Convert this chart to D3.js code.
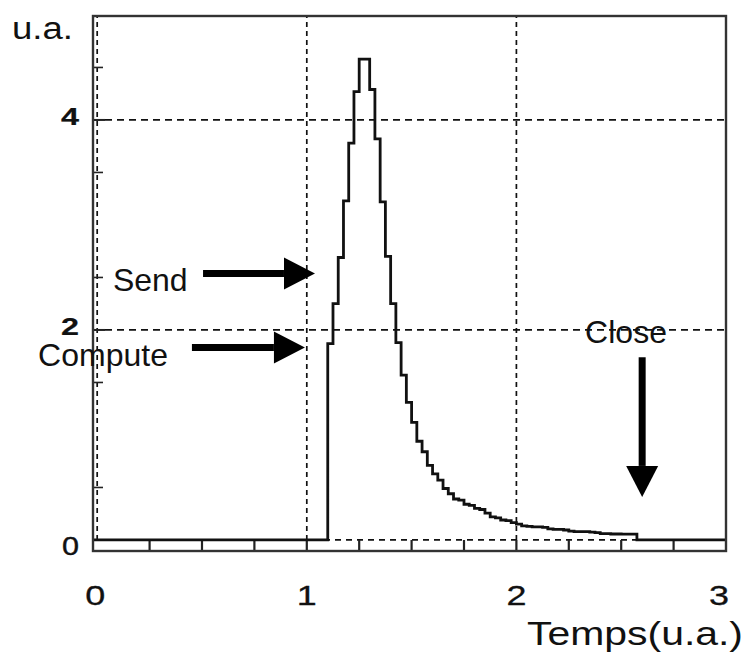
<!DOCTYPE html>
<html>
<head>
<meta charset="utf-8">
<script src="https://cdn.jsdelivr.net/npm/d3@7"></script>
<style>
  html, body { margin: 0; padding: 0; background: #fff; }
  svg { display: block; }
  text { font-family: "Liberation Sans", Arial, Helvetica, sans-serif; fill: #111; }
</style>
</head>
<body>
<svg id="chart" width="747" height="656"></svg>
<script>
// ---------- data ----------
const binEdges = [1.100,1.125,1.150,1.175,1.200,1.225,1.250,1.275,1.300,1.325,
                  1.350,1.375,1.400,1.425,1.450,1.475,1.500,1.525,1.550,1.575,
                  1.600,1.625,1.650,1.675,1.700,1.725,1.750,1.775,1.800,1.825,
                  1.850,1.875,1.900,1.925,1.950,1.975,2.000,2.025,2.050,2.075,
                  2.100,2.125,2.150,2.175,2.200,2.225,2.250,2.275,2.300,2.325,
                  2.350,2.375,2.400,2.425,2.450,2.475,2.500,2.525,2.550,2.575];
const binValues = [1.87,2.25,2.69,3.23,3.78,4.27,4.58,4.58,4.29,3.82,
                   3.22,2.70,2.25,1.88,1.57,1.31,1.12,0.94,0.84,0.71,
                   0.63,0.57,0.49,0.44,0.39,0.38,0.34,0.33,0.30,0.29,
                   0.255,0.22,0.21,0.19,0.185,0.165,0.15,0.135,0.13,0.125,
                   0.125,0.12,0.105,0.10,0.10,0.095,0.085,0.08,0.08,0.08,
                   0.075,0.07,0.06,0.06,0.057,0.057,0.055,0.055,0.055];
const xTickLabels = [0, 1, 2, 3];
const xMinorTicks = [0.25,0.5,0.75,1,1.25,1.5,1.75,2,2.25,2.5,2.75];
const yTickLabels = [0, 2, 4];
const yMinorTicks = [0.5,1.5,2.5,3.5,4.5];
const xGrid = [0, 1, 2];
const yGrid = [0, 2, 4];
const xTitle = "Temps(u.a.)";
const yTitle = "u.a.";
// annotations (data coordinates)
const arrows = [
  {name: "Send",    x0: 0.505, y0: 2.537, x1: 1.039, y1: 2.537},
  {name: "Compute", x0: 0.452, y0: 1.834, x1: 0.991, y1: 1.834},
  {name: "Close",   x0: 2.600, y0: 1.740, x1: 2.600, y1: 0.410}
];
const labels = [
  {text: "Send",    x: 0.075,  y: 2.375, anchor: "start"},
  {text: "Compute", x: -0.282, y: 1.655, anchor: "start"},
  {text: "Close",   x: 2.523,  y: 1.880, anchor: "middle"}
];

// ---------- layout ----------
const L = 93, R = 726, T = 16, B = 551;
const x = d3.scaleLinear().domain([-0.02, 3]).range([L, R]);
const y = d3.scaleLinear().domain([-0.105, 4.99]).range([B, T]);

const svg = d3.select("#chart");

// grid lines (dashed)
const g = svg.append("g");
g.selectAll(".vg").data(xGrid).enter().append("line")
  .attr("x1", d => x(d)).attr("x2", d => x(d))
  .attr("y1", y(0)).attr("y2", T)
  .attr("stroke", "#111").attr("stroke-width", 1.7)
  .attr("stroke-dasharray", "5,4");
g.selectAll(".hg").data(yGrid).enter().append("line")
  .attr("x1", L).attr("x2", R)
  .attr("y1", d => y(d)).attr("y2", d => y(d))
  .attr("stroke", "#111").attr("stroke-width", 1.7)
  .attr("stroke-dasharray", d => d === 0 ? "6,5" : "7,5");

// minor ticks on x (between bottom frame and zero line)
g.selectAll(".xt").data(xMinorTicks).enter().append("line")
  .attr("x1", d => x(d)).attr("x2", d => x(d))
  .attr("y1", B).attr("y2", y(0))
  .attr("stroke", "#222").attr("stroke-width", 2.2);
// medium ticks on y
g.selectAll(".yt").data(yMinorTicks).enter().append("line")
  .attr("x1", L).attr("x2", L + 10)
  .attr("y1", d => y(d)).attr("y2", d => y(d))
  .attr("stroke", "#222").attr("stroke-width", 1.6);
g.selectAll(".ytm").data(yTickLabels).enter().append("line")
  .attr("x1", L).attr("x2", L + 12)
  .attr("y1", d => y(d)).attr("y2", d => y(d))
  .attr("stroke", "#222").attr("stroke-width", 2);

// histogram outline (step)
const pts = [{x: -0.02, v: 0}];
binValues.forEach((v, i) => pts.push({x: binEdges[i], v: v}));
pts.push({x: binEdges[binEdges.length - 1], v: 0});
pts.push({x: 3, v: 0});
const line = d3.line().x(d => x(d.x)).y(d => y(d.v)).curve(d3.curveStepAfter);
svg.append("path").attr("d", line(pts))
  .attr("fill", "none").attr("stroke", "#111").attr("stroke-width", 2.8);

// frame
svg.append("rect").attr("x", L).attr("y", T).attr("width", R - L).attr("height", B - T)
  .attr("fill", "none").attr("stroke", "#333").attr("stroke-width", 2.4);

// tick labels
svg.selectAll(".xl").data(xTickLabels).enter().append("text")
  .attr("x", d => x(d) - (d === 3 ? 7 : (d === 0 ? 2 : 0)))
  .attr("y", 605)
  .attr("text-anchor", "middle")
  .attr("font-size", 28)
  .attr("stroke", "#111").attr("stroke-width", 0.3)
  .attr("textLength", 20).attr("lengthAdjust", "spacingAndGlyphs")
  .text(d => d);
svg.selectAll(".yl").data(yTickLabels).enter().append("text")
  .attr("x", 79)
  .attr("y", d => y(d) + (d === 0 ? 15 : 5))
  .attr("text-anchor", "end")
  .attr("font-size", d => d === 0 ? 25 : 23)
  .attr("font-weight", d => d === 0 ? "normal" : "bold")
  .attr("stroke", "#111").attr("stroke-width", d => d === 0 ? 0.4 : 0.2)
  .attr("textLength", d => d === 0 ? 17 : 18).attr("lengthAdjust", "spacingAndGlyphs")
  .text(d => d);

// axis titles
svg.append("text").attr("x", 12).attr("y", 39)
  .attr("font-size", 31).attr("textLength", 61).attr("lengthAdjust", "spacingAndGlyphs")
  .text(yTitle);
svg.append("text").attr("x", 527).attr("y", 645)
  .attr("font-size", 33).attr("textLength", 216).attr("lengthAdjust", "spacingAndGlyphs")
  .text(xTitle);

// annotation labels
svg.selectAll(".al").data(labels).enter().append("text")
  .attr("x", d => x(d.x)).attr("y", d => y(d.y))
  .attr("text-anchor", d => d.anchor)
  .attr("font-size", 32)
  .text(d => d.text);

// arrows
const headLen = 31, headHalf = 16, shaft = 7;
arrows.forEach(a => {
  const X0 = x(a.x0), Y0 = y(a.y0), X1 = x(a.x1), Y1 = y(a.y1);
  const dx = X1 - X0, dy = Y1 - Y0, len = Math.hypot(dx, dy);
  const ux = dx / len, uy = dy / len, nx = -uy, ny = ux;
  const bx = X1 - ux * headLen, by = Y1 - uy * headLen;
  svg.append("line").attr("x1", X0).attr("y1", Y0).attr("x2", bx).attr("y2", by)
    .attr("stroke", "#000").attr("stroke-width", shaft);
  svg.append("path")
    .attr("d", `M${X1},${Y1}L${bx + nx * headHalf},${by + ny * headHalf}L${bx - nx * headHalf},${by - ny * headHalf}Z`)
    .attr("fill", "#000");
});
</script>
</body>
</html>
